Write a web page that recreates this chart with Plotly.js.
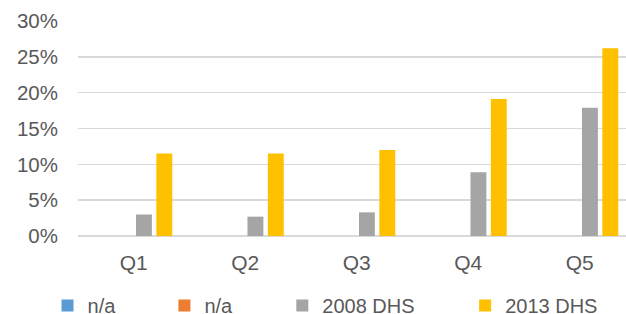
<!DOCTYPE html>
<html><head><meta charset="utf-8">
<script src="https://cdn.plot.ly/plotly-3.0.1.min.js"></script>
<style>html,body{margin:0;padding:0;background:#fff;}#chart{width:626px;height:314px;}</style>
</head><body><div id="chart"></div>
<script>
var categories = ["Q1", "Q2", "Q3", "Q4", "Q5"];
var seriesNames = ["n/a", "n/a", "2008 DHS", "2013 DHS"];
var naA = [0, 0, 0, 0, 0];
var naB = [0, 0, 0, 0, 0];
var dhs2008 = [3.0, 2.7, 3.3, 8.9, 17.9];
var dhs2013 = [11.5, 11.5, 12.0, 19.1, 26.2];
var yTickVals = [0, 5, 10, 15, 20, 25, 30];
var yTickText = ["0%", "5%", "10%", "15%", "20%", "25%", "30%"];

var colors = ["#5B9BD5", "#ED7D31", "#A5A5A5", "#FFC000"];
var values = [naA, naB, dhs2008, dhs2013];
var legendIds = ["legend", "legend2", "legend3", "legend4"];
var W = 626, H = 314, L = 77.5, T = 21, B = 78;
var plotW = W - L, plotH = H - T - B;
// legend text start x (px) in reference
var legendTextX = [87, 204, 322, 505];

var traces = values.map(function (v, i) {
  return {
    type: "bar", x: categories, y: v, name: seriesNames[i],
    marker: {color: colors[i], line: {width: 0}},
    legend: legendIds[i], hoverinfo: "none", showlegend: true
  };
});

var layout = {
  width: W, height: H, showlegend: true,
  margin: {l: L, r: 0, t: T, b: B, pad: 0, autoexpand: false},
  paper_bgcolor: "#fff", plot_bgcolor: "#fff",
  barmode: "group", bargap: 0.269, bargroupgap: 0.22,
  font: {family: "Liberation Sans, Arial, sans-serif", color: "#595959", size: 21},
  xaxis: {range: [-0.5, 4.415], showgrid: false, zeroline: false, showline: false,
          ticks: "", tickfont: {size: 21, color: "#595959"}, ticklabelstandoff: 12, fixedrange: true},
  yaxis: {range: [0, 30], tickvals: yTickVals, ticktext: yTickText, showgrid: true,
          gridcolor: "#D9D9D9", gridwidth: 1.5, zeroline: true, zerolinecolor: "#D9D9D9", zerolinewidth: 1.5,
          showline: false, ticks: "", tickfont: {size: 20.5, color: "#595959"}, ticklabelstandoff: 19, fixedrange: true}
};
legendIds.forEach(function (id, i) {
  layout[id] = {
    x: (legendTextX[i] - 40 - L) / plotW, xanchor: "left",
    y: (H - B - 305.5) / plotH, yanchor: "middle",
    orientation: "h", bgcolor: "rgba(0,0,0,0)", borderwidth: 0,
    font: {size: 20, color: "#595959"}
  };
});

Plotly.newPlot("chart", traces, layout, {displayModeBar: false, staticPlot: true});
</script></body></html>
